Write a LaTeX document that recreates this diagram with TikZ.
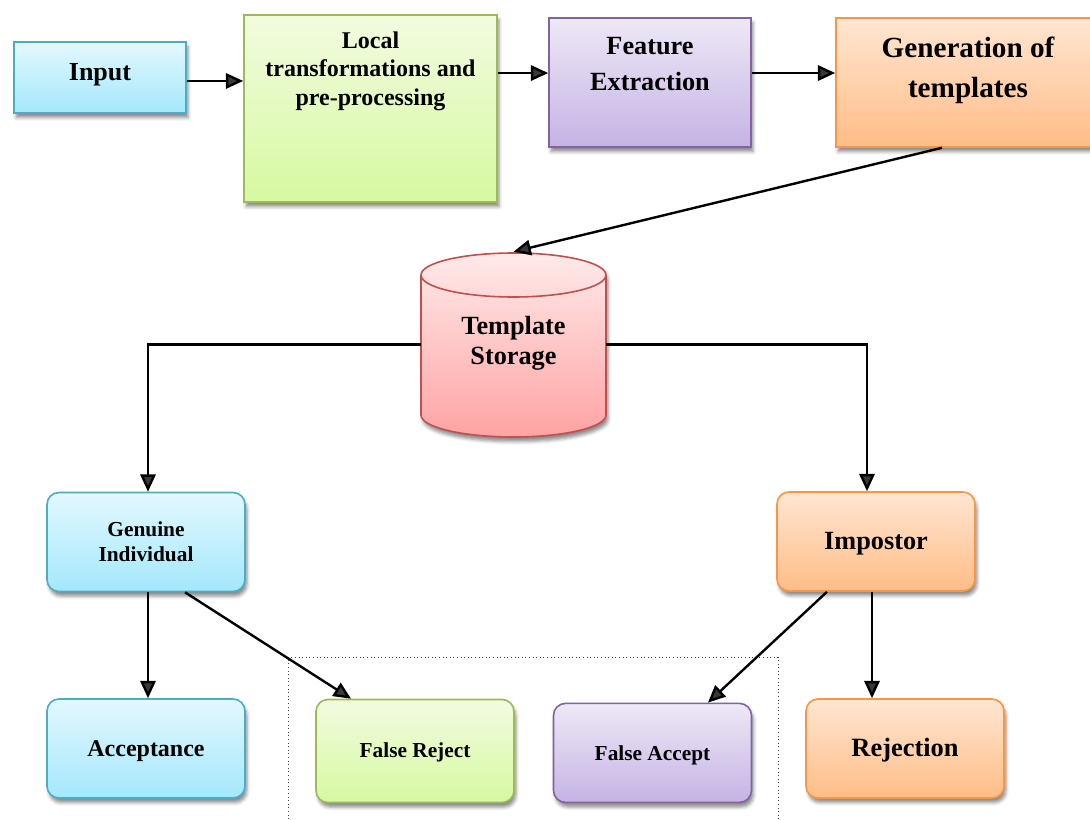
\documentclass[tikz,border=0pt]{standalone}
\usepackage{fontspec}
\setmainfont{Liberation Serif}
\usetikzlibrary{arrows.meta,shadows.blur,calc}
\definecolor{bluetop}{HTML}{E3F8FE}\definecolor{bluebot}{HTML}{A3E8FC}\definecolor{blueline}{HTML}{4BACC6}
\definecolor{greentop}{HTML}{F2FBE0}\definecolor{greenbot}{HTML}{D6F9A0}\definecolor{greenline}{HTML}{9BBB59}
\definecolor{purptop}{HTML}{EEE8F6}\definecolor{purpbot}{HTML}{C5B3E5}\definecolor{purpline}{HTML}{8064A2}
\definecolor{orantop}{HTML}{FFE6D2}\definecolor{oranbot}{HTML}{FFBD86}\definecolor{oranline}{HTML}{F79646}
\definecolor{redtop}{HTML}{FFEAEA}\definecolor{redbot}{HTML}{FFA3A3}\definecolor{redline}{HTML}{C0504D}
\newcommand{\lowr}[2]{\raisebox{#1}[\height][\depth]{#2}}
\tikzset{
  shbox/.style={draw, line width=1.2pt, inner sep=0pt, align=center, font=\bfseries,
    blur shadow={shadow xshift=1.5pt, shadow yshift=-3.5pt, shadow blur radius=2.5pt, shadow opacity=45}},
  bluebox/.style={shbox, draw=blueline, top color=bluetop, bottom color=bluebot},
  greenbox/.style={shbox, draw=greenline, top color=greentop, bottom color=greenbot},
  purpbox/.style={shbox, draw=purpline, top color=purptop, bottom color=purpbot},
  oranbox/.style={shbox, draw=oranline, top color=orantop, bottom color=oranbot},
  rbox/.style={rounded corners=9pt, minimum width=148.5pt},
  txt/.style={align=center, font=\bfseries, inner sep=0pt},
  arr/.style={line width=1.8pt, -{Triangle[length=13pt,width=11.5pt]}},
}
\begin{document}
\begin{tikzpicture}[x=0.75pt,y=-0.75pt]
\useasboundingbox (0,0) rectangle (1090,820);
\clip (0,0) rectangle (1090,820);
% top row
\node[bluebox, minimum width=129pt, minimum height=53.25pt] (input) at (100,77.5) {};
\node[txt, font=\bfseries\fontsize{19.5}{22}\selectfont] (inputtxt) at (100,75) {Input};
\node[greenbox, minimum width=189.75pt, minimum height=140.25pt] (local) at (370.5,108.5) {};
\node[txt, font=\bfseries\fontsize{18}{21.5}\selectfont] (localtxt) at (370.5,71) {Local\\transformations and\\pre-processing};
\node[purpbox, minimum width=151.5pt, minimum height=96.75pt] (feature) at (650,82.5) {};
\node[txt, font=\bfseries\fontsize{19.7}{27}\selectfont] (featuretxt) at (650,64.5) {Feature\\Extraction};
\node[oranbox, minimum width=205.5pt, minimum height=96.75pt] (gen) at (973,82.5) {};
\node[txt, font=\bfseries\fontsize{21.9}{30}\selectfont] (gentxt) at (968,70) {Generation of\\templates};
% cylinder
\node[inner sep=0pt, minimum width=138.75pt, minimum height=138.75pt] (store) at (513.5,344.5) {};
\path[draw=redline, line width=1.2pt, top color=redtop, bottom color=redbot,
  blur shadow={shadow xshift=1.5pt, shadow yshift=-3.5pt, shadow blur radius=2.5pt, shadow opacity=45}]
  (421,275) -- (421,415) arc[start angle=180, end angle=0, x radius=92.5, y radius=22]
  -- (606,275) arc[start angle=0, end angle=-180, x radius=92.5, y radius=22] -- cycle;
\draw[redline, line width=1.2pt] (421,275) arc[start angle=180, end angle=0, x radius=92.5, y radius=22];
\node[txt, font=\bfseries\fontsize{19.7}{22.5}\selectfont] (storetxt) at (513.5,343) {Template\\Storage};
% middle row
\node[bluebox, rbox, minimum height=74.25pt, font=\bfseries\fontsize{16}{18.75}\selectfont] (genuine) at (146,542) {Genuine\\Individual};
\node[oranbox, rbox, minimum height=74.25pt, font=\bfseries\fontsize{19.7}{22}\selectfont] (impostor) at (876,541.5) {\lowr{-1.5pt}{Impostor}};
% bottom row
\draw[black!75, line width=0.7pt, dotted] (288,830) -- (288,657) -- (778,657) -- (778,830);
\node[bluebox, rbox, minimum height=74.25pt, font=\bfseries\fontsize{18}{20}\selectfont] (accept) at (146,748.5) {\lowr{-2.2pt}{Acceptance}};
\node[greenbox, rbox, minimum height=77.25pt, font=\bfseries\fontsize{16}{18}\selectfont] (freject) at (415,751) {\lowr{-0.8pt}{False Reject}};
\node[purpbox, rbox, minimum height=74.25pt, font=\bfseries\fontsize{16}{18}\selectfont] (faccept) at (652.5,752.9) {\lowr{-2pt}{False Accept}};
\node[oranbox, rbox, minimum height=74.25pt, font=\bfseries\fontsize{19.8}{22}\selectfont] (reject) at (905,748.5) {\lowr{-1.5pt}{Rejection}};
% connectors
\draw[arr] ([yshift=-2.6pt]input.east) -- ([yshift=-2.6pt]input.east -| local.west);
\draw[arr] ([yshift=7.1pt]feature.west -| local.east) -- ([yshift=7.1pt]feature.west);
\draw[arr] ([yshift=7.1pt]feature.east) -- ([yshift=7.1pt]gen.west);
\draw[arr] ([xshift=-23.25pt]gen.south) -- (store.north);
\draw[arr] (store.west) -| ([xshift=1.5pt]genuine.north);
\draw[arr] (store.east) -| ([xshift=-6.75pt]impostor.north);
\draw[arr] ([xshift=1.5pt]genuine.south) -- ([xshift=1.5pt]accept.north);
\draw[arr] ([xshift=29.25pt]genuine.south) -- ([xshift=-48pt]freject.north);
\draw[arr] ([xshift=-36.75pt]impostor.south) -- ([xshift=41.6pt]faccept.north);
\draw[arr] ([xshift=-3pt]impostor.south) -- ([xshift=-3pt]impostor.south |- reject.north);
\end{tikzpicture}
\end{document}
